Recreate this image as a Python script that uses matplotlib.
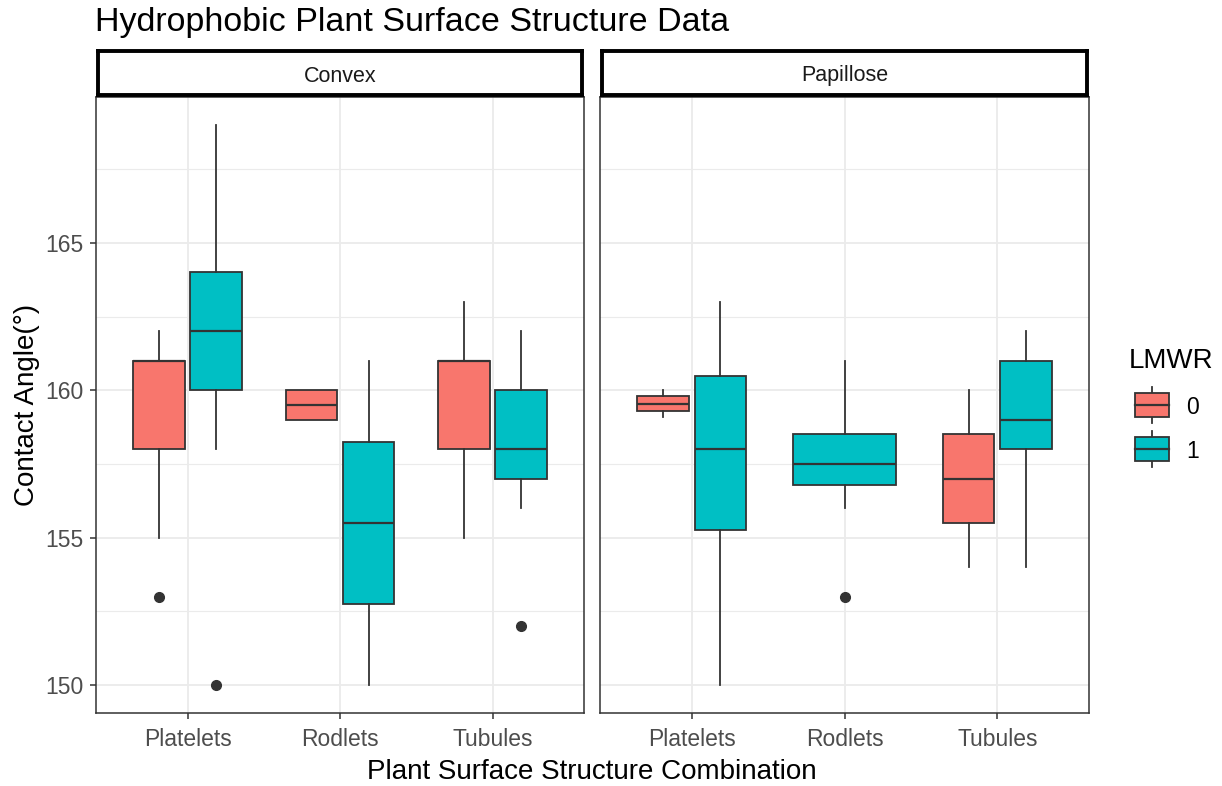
#!/usr/bin/env python3
"""Faceted boxplot of contact angles by plant surface structure and LMWR."""

import matplotlib
matplotlib.use("Agg")
import matplotlib.pyplot as plt
from matplotlib.patches import Rectangle

plt.rcParams["font.family"] = ["Liberation Sans", "DejaVu Sans"]

W, H = 1222, 786

structures = ["Platelets", "Rodlets", "Tubules"]
facets = ["Convex", "Papillose"]

# Convex facet: one entry per box
convex_struct = ["Platelets", "Platelets", "Rodlets", "Rodlets", "Tubules", "Tubules"]
convex_lmwr = [0, 1, 0, 1, 0, 1]
convex_whislo = [155, 158, 159, 150, 155, 156]
convex_q1 = [158, 160, 159, 152.75, 158, 157]
convex_med = [161, 162, 159.5, 155.5, 161, 158]
convex_q3 = [161, 164, 160, 158.25, 161, 160]
convex_whishi = [162, 169, 160, 161, 163, 162]
convex_fliers = [[153], [150], [], [], [], [152]]

# Papillose facet (no LMWR=0 rodlets)
papillose_struct = ["Platelets", "Platelets", "Rodlets", "Tubules", "Tubules"]
papillose_lmwr = [0, 1, 1, 0, 1]
papillose_whislo = [159.1, 150, 156, 154, 154]
papillose_q1 = [159.3, 155.25, 156.8, 155.5, 158]
papillose_med = [159.55, 158, 157.5, 157, 159]
papillose_q3 = [159.8, 160.5, 158.5, 158.5, 161]
papillose_whishi = [160, 163, 161, 160, 162]
papillose_fliers = [[], [], [153], [], []]

yticks = [150, 155, 160, 165]
yminor = [152.5, 157.5, 162.5, 167.5]
lmwr_levels = [0, 1]

FILL = {0: "#F8766D", 1: "#00BFC4"}
EDGE = "#333333"
GRID = "#EBEBEB"
TICK_TXT = "#4D4D4D"


def px_box(x0, y0, x1, y1):
    return [x0 / W, 1 - y1 / H, (x1 - x0) / W, (y1 - y0) / H]


def draw_facet(ax, struct, lmwr, whislo, q1, med, q3, whishi, fliers):
    stats, pos, widths, colors = [], [], [], []
    dodge = 0.75
    for i in range(len(struct)):
        n_in_group = struct.count(struct[i])
        x = structures.index(struct[i]) + 1
        if n_in_group == 2:
            k = [j for j in range(len(struct)) if struct[j] == struct[i]].index(i)
            x += (-0.5 + k) * dodge / 2
            w = dodge / 2 * 0.9
        else:
            w = dodge * 0.9
        stats.append(dict(whislo=whislo[i], q1=q1[i], med=med[i], q3=q3[i],
                          whishi=whishi[i], fliers=fliers[i]))
        pos.append(x)
        widths.append(w)
        colors.append(FILL[lmwr[i]])

    bp = ax.bxp(stats, positions=pos, widths=widths, patch_artist=True,
                showcaps=False, manage_ticks=False,
                boxprops=dict(edgecolor=EDGE, linewidth=1.3),
                whiskerprops=dict(color=EDGE, linewidth=1.3),
                medianprops=dict(color=EDGE, linewidth=1.6),
                flierprops=dict(marker="o", markersize=7, markerfacecolor=EDGE,
                                markeredgecolor=EDGE))
    for patch, c in zip(bp["boxes"], colors):
        patch.set_facecolor(c)
        patch.set_zorder(3)
    for key in ("whiskers", "medians", "fliers"):
        for art in bp[key]:
            art.set_zorder(3 if key != "medians" else 4)

    ax.set_xlim(0.4, 3.6)
    ax.set_ylim(149.05, 169.95)
    ax.set_xticks(range(1, 4))
    ax.set_xticklabels(structures)
    ax.set_yticks(yticks)
    ax.set_yticks(yminor, minor=True)
    ax.grid(True, which="major", color=GRID, linewidth=1.3, zorder=0)
    ax.grid(True, which="minor", axis="y", color=GRID, linewidth=0.8, zorder=0)
    ax.set_axisbelow(True)
    ax.tick_params(axis="both", which="major", length=4, width=1.1, color=EDGE,
                   labelsize=16.5, labelcolor=TICK_TXT, pad=7)
    ax.tick_params(axis="y", which="major", pad=5)
    ax.tick_params(axis="both", which="minor", length=0)
    for sp in ax.spines.values():
        sp.set_color(EDGE)
        sp.set_linewidth(1.1)


fig = plt.figure(figsize=(W / 100, H / 100), dpi=100)

panel_x = [(96, 584), (600, 1089)]
panel_top, panel_bot = 97, 713
strip_top = 50

ax_c = fig.add_axes(px_box(panel_x[0][0], panel_top, panel_x[0][1], panel_bot))
draw_facet(ax_c, convex_struct, convex_lmwr, convex_whislo, convex_q1,
           convex_med, convex_q3, convex_whishi, convex_fliers)

ax_p = fig.add_axes(px_box(panel_x[1][0], panel_top, panel_x[1][1], panel_bot))
draw_facet(ax_p, papillose_struct, papillose_lmwr, papillose_whislo, papillose_q1,
           papillose_med, papillose_q3, papillose_whishi, papillose_fliers)
ax_p.tick_params(axis="y", which="both", left=False, labelleft=False)

# facet strips
for (x0, x1), name in zip(panel_x, facets):
    sax = fig.add_axes(px_box(x0 + 2, strip_top + 1, x1 - 2, panel_top - 2))
    sax.set_xticks([])
    sax.set_yticks([])
    sax.set_facecolor("white")
    for sp in sax.spines.values():
        sp.set_color("black")
        sp.set_linewidth(2.8)
    fig.text((x0 + x1) / 2 / W, 1 - 76 / H, name, ha="center", va="center",
             fontsize=15.5, color="#1A1A1A")

fig.text(95 / W, 1 - 23 / H, "Hydrophobic Plant Surface Structure Data",
         ha="left", va="center", fontsize=24.5, color="black")
fig.text(592 / W, 1 - 772 / H, "Plant Surface Structure Combination",
         ha="center", va="center", fontsize=20, color="black")
fig.text(27 / W, 1 - 405 / H, "Contact Angle(°)", rotation=90,
         ha="center", va="center", fontsize=20, color="black")

# legend
fig.text(1129 / W, 1 - 361 / H, "LMWR", ha="left", va="center",
         fontsize=20, color="black")
lax = fig.add_axes(px_box(1135, 383, 1169, 471))
lax.set_xlim(0, 1)
lax.set_ylim(0, 2)
lax.axis("off")
for i, lv in enumerate(lmwr_levels):
    yc = 1.5 - i
    lax.plot([0.5, 0.5], [yc - 0.4, yc + 0.4], color=EDGE, linewidth=1.3,
             zorder=1, clip_on=False)
    lax.add_patch(Rectangle((0.0, yc - 0.27), 1.0, 0.54, facecolor=FILL[lv],
                            edgecolor=EDGE, linewidth=1.3, zorder=2, clip_on=False))
    lax.plot([0.0, 1.0], [yc, yc], color=EDGE, linewidth=1.6, zorder=3, clip_on=False)
    fig.text(1186 / W, 1 - (408 + 44 * i) / H, str(lv), ha="left", va="center",
             fontsize=16.5, color="black")

fig.savefig("out.png", dpi=100)
